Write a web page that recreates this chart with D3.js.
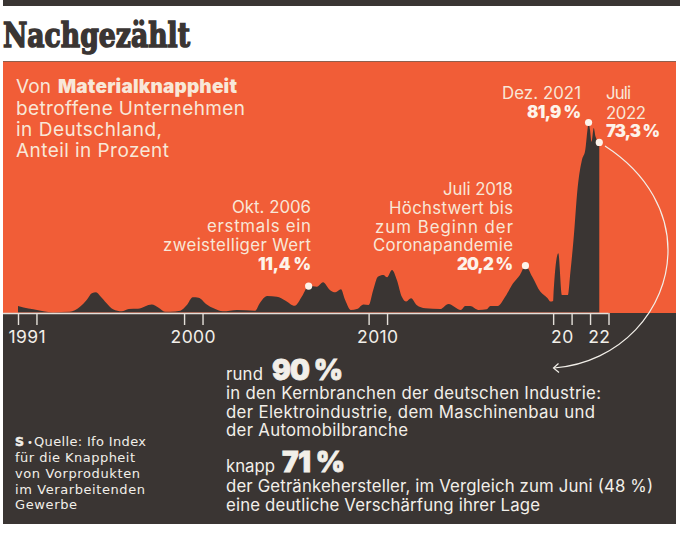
<!DOCTYPE html>
<html>
<head>
<meta charset="utf-8">
<script src="https://cdn.jsdelivr.net/npm/d3@7/dist/d3.min.js"></script>
<style>
  html, body { margin: 0; padding: 0; background: #fff; }
  svg { display: block; }
</style>
</head>
<body>
<div id="chart"></div>
<script>
// Zeitpunkt als Dezimaljahr, Wert in Prozent
const dates = [1991, 1991.3, 1991.83, 1992.37, 1992.9, 1993.8, 1994.36, 1994.72, 1995, 1995.23, 1995.45, 1995.8,
  1996.15, 1996.62, 1997, 1997.5, 1998.25, 1998.6, 1999, 1999.24, 1999.8, 2000.15, 2000.47, 2000.78, 2001.23, 2001.6,
  2002.1, 2002.86, 2003.85, 2004.1, 2004.5, 2005.03, 2005.5, 2006, 2006.4, 2006.75, 2007.2, 2007.53, 2007.9,
  2008.2, 2008.5, 2008.73, 2009.04, 2009.37, 2009.72, 2010, 2010.25, 2010.5, 2010.8, 2011, 2011.27, 2011.53, 2011.8,
  2012.04, 2012.3, 2012.6, 2013.07, 2013.88, 2014.33, 2015, 2015.24, 2015.5, 2015.96, 2016.4, 2016.6, 2017, 2017.4,
  2017.83, 2018.2, 2018.5, 2018.87, 2019.3, 2019.7, 2019.85, 2020, 2020.03, 2020.28, 2020.48, 2020.6, 2020.8, 2020.93,
  2021.1, 2021.33, 2021.56, 2021.74, 2021.86, 2021.92, 2022, 2022.08, 2022.2, 2022.3, 2022.5];
const shares = [2.8, 2.2, 1.4, 0.5, 0.1, 0.3, 2.5, 5.4, 8.3, 8.7, 7.1, 4,
  1.4, 0.5, 1.5, 1.6, 3.4, 2.2, 0.3, 0.3, 0.8, 3.2, 6.6, 6.4, 3.5, 1.8,
  0.5, 1.1, 0.8, 4, 7.1, 6.8, 5.1, 2.9, 7.1, 11.4, 11.1, 13, 9.7,
  8.7, 10, 5.4, 1.1, 1.5, 3.5, 3.2, 9.7, 15.4, 16.2, 15.2, 18.3, 14, 6.8,
  4.7, 6.1, 3.2, 1.8, 1.5, 3.7, 1.1, 2.8, 2.8, 1.1, 1.4, 2.8, 2.8, 6.8,
  12.6, 16.2, 20.2, 15.4, 9, 6.1, 4.7, 5, 9.7, 25.5, 7.5, 7.5, 7.5, 17,
  31, 54, 65.7, 70, 78.7, 81.9, 78.7, 73.6, 79.5, 75.8, 73.3];

const tickYears = [1991, 1992, 2000, 2001, 2010, 2011, 2020, 2021, 2022, 2023];
const yearLabels = ["1991", "2000", "2010", "20", "22"];
const labelYears = [1991, 2000, 2010, 2020, 2022];
const markerDates = [2006.75, 2018.5, 2021.92, 2022.5];
const markerValues = [11.4, 20.2, 81.9, 73.3];

const dark = "#3a3533", orange = "#f15d37", cream = "#f8e7d8", light = "#f2efe9";
const sans = "Inter, 'Noto Sans', sans-serif";

const svg = d3.select("#chart").append("svg")
  .attr("width", 680)
  .attr("height", 541);

const x = d3.scaleLinear().domain([1991, 2023]).range([18, 608.5]);
const y = d3.scaleLinear().domain([0, 81.9]).range([312.5, 122.5]);

// Flaechen
svg.append("rect").attr("x", 3).attr("y", 0).attr("width", 677).attr("height", 6).attr("fill", dark);
svg.append("rect").attr("x", 3).attr("y", 61).attr("width", 673).attr("height", 1).attr("fill", "#8f5f4d");
svg.append("rect").attr("x", 3).attr("y", 62).attr("width", 673).attr("height", 251).attr("fill", orange);
svg.append("rect").attr("x", 3).attr("y", 313).attr("width", 673).attr("height", 211).attr("fill", dark);

const area = d3.area()
  .x((d, i) => x(dates[i]))
  .y0(y(0))
  .y1(d => y(d))
  .curve(d3.curveMonotoneX);

svg.append("path")
  .datum(shares)
  .attr("d", area)
  .attr("fill", dark);

// Achse
svg.append("line")
  .attr("x1", 3).attr("x2", x(2023))
  .attr("y1", 313.5).attr("y2", 313.5)
  .attr("stroke", "#e4e0da").attr("stroke-width", 1.6);

const axis = svg.append("g")
  .attr("transform", "translate(0,313)")
  .call(d3.axisBottom(x).tickValues(tickYears).tickSize(12).tickFormat(""));
axis.select(".domain").remove();
axis.selectAll("line").attr("stroke", "#e4e0da").attr("stroke-width", 1.4);

svg.selectAll(".year")
  .data(yearLabels)
  .enter()
  .append("text")
  .attr("class", "year")
  .attr("x", (d, i) => x(labelYears[i] + 0.5))
  .attr("y", 343)
  .attr("text-anchor", "middle")
  .attr("font-family", sans)
  .attr("font-size", 17.5)
  .attr("letter-spacing", 0.4)
  .attr("fill", light)
  .text(d => d);

// Textzeile, optional auf Zielbreite gebracht
function label(px, py, str, o = {}) {
  const t = svg.append("text")
    .attr("x", px).attr("y", py)
    .attr("text-anchor", o.anchor || "start")
    .attr("font-family", o.font || sans)
    .attr("font-size", o.size || 16.8)
    .attr("font-weight", o.weight || 400)
    .attr("fill", o.fill || cream)
    .text(str);
  if (o.width) t.attr("textLength", o.width).attr("lengthAdjust", o.adjust || "spacing");
  if (o.stroke) t.attr("stroke", o.fill || cream).attr("stroke-width", o.stroke);
  return t;
}

// Titel
label(3, 47, "Nachgezählt", { font: "'DejaVu Serif', serif", size: 34, weight: 700, fill: dark, width: 187, adjust: "spacingAndGlyphs", stroke: 1.6 });

// Kopftext
label(16, 93, "Von", { size: 19, width: 35 });
label(58, 93, "Materialknappheit", { size: 19, weight: 900, width: 179 });
label(16, 115, "betroffene Unternehmen", { size: 19, width: 229 });
label(16, 136, "in Deutschland,", { size: 19, width: 146 });
label(16, 157, "Anteil in Prozent", { size: 19, width: 153 });

// Annotationen
const bright = "#fdf3ea";
label(311, 213, "Okt. 2006", { anchor: "end", width: 79 });
label(311, 232, "erstmals ein", { anchor: "end", width: 104 });
label(311, 251, "zweistelliger Wert", { anchor: "end", width: 148 });
label(311, 270, "11,4 %", { anchor: "end", weight: 900, fill: bright, width: 53 });

label(513, 195, "Juli 2018", { anchor: "end", width: 70 });
label(513, 214, "Höchstwert bis", { anchor: "end", width: 124 });
label(513, 233, "zum Beginn der", { anchor: "end", width: 138 });
label(513, 251, "Coronapandemie", { anchor: "end", width: 140 });
label(513, 270, "20,2 %", { anchor: "end", weight: 900, fill: bright, width: 56 });

label(581, 99, "Dez. 2021", { anchor: "end", width: 79 });
label(581, 118, "81,9 %", { anchor: "end", weight: 900, fill: bright, width: 54 });
label(606, 99, "Juli", { width: 25 });
label(606, 119, "2022", { width: 40 });
label(606, 137, "73,3 %", { weight: 900, fill: bright, width: 54 });

// Markierungen
svg.selectAll(".marker")
  .data(markerValues)
  .enter()
  .append("circle")
  .attr("class", "marker")
  .attr("cx", (d, i) => x(markerDates[i]))
  .attr("cy", d => y(d))
  .attr("r", 3.6)
  .attr("fill", bright);

// Pfeil
svg.append("path")
  .attr("d", "M605,146 C650,175 668,215 668,250 C668,310 620,363 554,368")
  .attr("fill", "none").attr("stroke", light).attr("stroke-width", 1.2);
svg.append("path")
  .attr("d", "M558.5,363.5 L553.5,368 L559,372.5")
  .attr("fill", "none").attr("stroke", light).attr("stroke-width", 1.2);

// Text unten
label(226, 380, "rund", { fill: light, width: 37 });
label(272, 380, "90 %", { size: 28, weight: 900, fill: light, width: 71, stroke: 0.8 });
label(226, 399, "in den Kernbranchen der deutschen Industrie:", { fill: light, width: 375 });
label(226, 418, "der Elektroindustrie, dem Maschinenbau und", { fill: light, width: 369 });
label(226, 436, "der Automobilbranche", { fill: light, width: 182 });
label(226, 472, "knapp", { fill: light, width: 49 });
label(282, 472, "71 %", { size: 28, weight: 900, fill: light, width: 63, stroke: 0.8 });
label(226, 492, "der Getränkehersteller, im Vergleich zum Juni (48 %)", { fill: light, width: 427 });
label(226, 511, "eine deutliche Verschärfung ihrer Lage", { fill: light, width: 314 });

// Quelle
const source = "'DejaVu Sans', sans-serif";
label(15, 446, "S", { font: source, size: 13, weight: 700, fill: light, width: 9, adjust: "spacingAndGlyphs", stroke: 0.5 });
label(27, 446, "•", { font: source, size: 10, fill: light });
label(34, 446, "Quelle: Ifo Index", { font: source, size: 13, fill: light, width: 112 });
label(15, 462, "für die Knappheit", { font: source, size: 13, fill: light, width: 120 });
label(15, 478, "von Vorprodukten", { font: source, size: 13, fill: light, width: 125 });
label(15, 494, "im Verarbeitenden", { font: source, size: 13, fill: light, width: 130 });
label(15, 509, "Gewerbe", { font: source, size: 13, fill: light, width: 62 });
</script>
</body>
</html>
